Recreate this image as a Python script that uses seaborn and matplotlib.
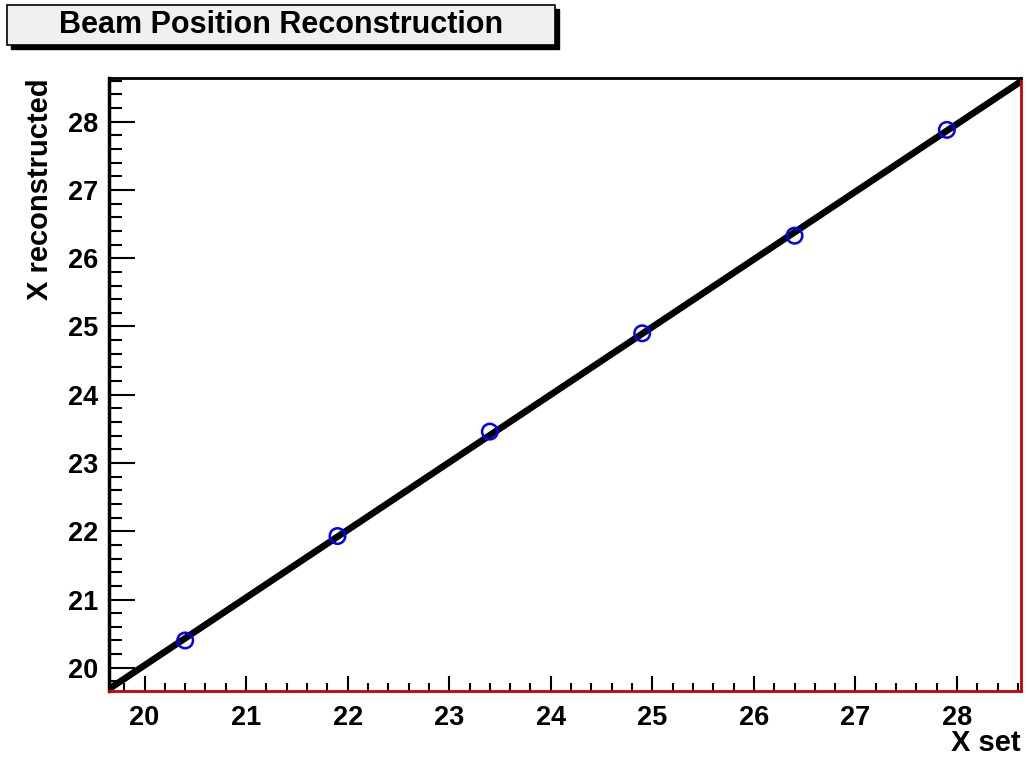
import matplotlib
matplotlib.use('Agg')
import numpy as np
import pandas as pd
import matplotlib.pyplot as plt
import matplotlib.patches as patches
from matplotlib.ticker import MultipleLocator
import seaborn as sns

x_set = [20.4, 21.9, 23.4, 24.9, 26.4, 27.9]
x_reco = [20.40, 21.93, 23.46, 24.90, 26.33, 27.88]
title = "Beam Position Reconstruction"

sns.set_style("ticks")
plt.rcParams['font.family'] = ['Liberation Sans', 'DejaVu Sans']
plt.rcParams['font.weight'] = 'bold'
for key in ['text.color', 'axes.labelcolor', 'xtick.color', 'ytick.color']:
    plt.rcParams[key] = 'black'

df = pd.DataFrame({"X set": x_set, "X reconstructed": x_reco})

W, H = 1028, 758
fig = plt.figure(figsize=(W / 100, H / 100), dpi=100)
ax = fig.add_axes([109 / W, 1 - 691 / H, (1021 - 109) / W, (691 - 78) / H])

# limits first so the fit line spans the whole frame
ax.set_xlim(19.65, 28.63)
ax.set_ylim(19.66, 28.64)

sns.regplot(data=df, x="X set", y="X reconstructed", ax=ax, ci=None, truncate=False,
            scatter=False, line_kws=dict(color="black", lw=4.8, zorder=2,
                                         solid_capstyle="round"))
sns.scatterplot(data=df, x="X set", y="X reconstructed", ax=ax, marker="o",
                s=125, facecolors="none", edgecolor="#0000ff", linewidth=1.8, zorder=3)

ax.set_xlim(19.65, 28.63)
ax.set_ylim(19.66, 28.64)
ax.xaxis.set_major_locator(MultipleLocator(1))
ax.xaxis.set_minor_locator(MultipleLocator(0.2))
ax.yaxis.set_major_locator(MultipleLocator(1))
ax.yaxis.set_minor_locator(MultipleLocator(0.2))
ax.tick_params(which="both", direction="in", width=1.5, labelsize=19.5)
ax.tick_params(axis="x", which="major", length=11, pad=10)
ax.tick_params(axis="x", which="minor", length=6)
ax.tick_params(axis="y", which="major", length=19, pad=8)
ax.tick_params(axis="y", which="minor", length=9.5)
for lab in ax.get_xticklabels() + ax.get_yticklabels():
    lab.set_fontweight("bold")

ax.spines["left"].set_color("black")
ax.spines["left"].set_linewidth(2.5)
ax.spines["top"].set_color("black")
ax.spines["top"].set_linewidth(2)
for side in ["bottom", "right"]:
    ax.spines[side].set_color("#cc0000")
    ax.spines[side].set_linewidth(2)

ax.set_xlabel("X set", fontsize=21, fontweight="bold")
ax.set_ylabel("X reconstructed", fontsize=21, fontweight="bold")
ax.xaxis.set_label_coords(1.0, -0.062)
ax.xaxis.label.set_horizontalalignment("right")
ax.xaxis.label.set_verticalalignment("top")
ax.yaxis.set_label_coords(-0.06, 1.0)
ax.yaxis.label.set_horizontalalignment("right")

# ROOT-style title box with shadow
bx0, by0, bx1, by1 = 7, 5, 555, 45
sh = 4
fig.patches.append(patches.Rectangle((((bx0 + sh) / W), 1 - (by1 + sh) / H),
                                     (bx1 - bx0) / W, (by1 - by0) / H,
                                     transform=fig.transFigure, facecolor="black",
                                     edgecolor="black", zorder=1))
fig.patches.append(patches.Rectangle((bx0 / W, 1 - by1 / H),
                                     (bx1 - bx0) / W, (by1 - by0) / H,
                                     transform=fig.transFigure, facecolor="#f0f0f0",
                                     edgecolor="black", lw=1.2, zorder=2))
fig.text((bx0 + bx1) / 2 / W, 1 - (by0 + by1) / 2 / H, title, ha="center", va="center",
         fontsize=22, fontweight="bold", zorder=3)

fig.savefig("out.png", dpi=100)
